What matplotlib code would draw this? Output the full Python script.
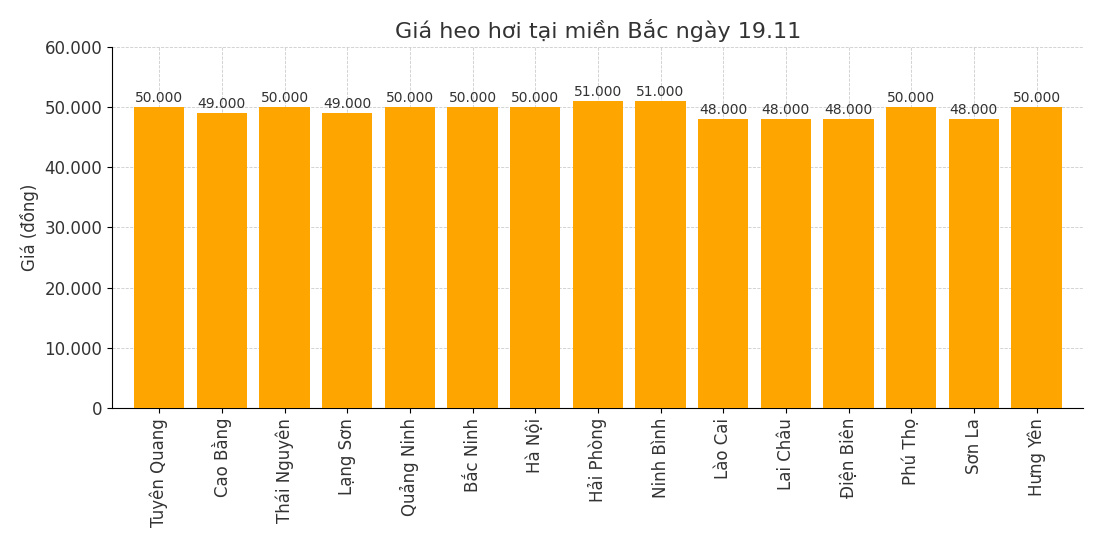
import matplotlib
matplotlib.use("Agg")
import matplotlib.pyplot as plt
from matplotlib.ticker import FuncFormatter

provinces = ["Tuyên Quang", "Cao Bằng", "Thái Nguyên", "Lạng Sơn", "Quảng Ninh", "Bắc Ninh",
             "Hà Nội", "Hải Phòng", "Ninh Bình", "Lào Cai", "Lai Châu", "Điện Biên",
             "Phú Thọ", "Sơn La", "Hưng Yên"]
prices = [50000, 49000, 50000, 49000, 50000, 50000, 50000, 51000, 51000, 48000, 48000, 48000,
          50000, 48000, 50000]

def fmt(v):
    return f"{int(v):,}".replace(",", ".")

plt.rcParams['font.family'] = ['DejaVu Sans']
fig = plt.figure(figsize=(11, 5.5), dpi=100)
ax = fig.add_axes([0.102, 0.258, 0.883, 0.657])
x = range(len(provinces))
ax.bar(x, prices, color="#FFA500", width=0.8, zorder=3)
for xi, v in zip(x, prices):
    ax.text(xi, v + 300, fmt(v), ha="center", va="bottom", fontsize=10, color="#333333", zorder=4)
ax.set_ylim(0, 60000)
ax.set_xlim(-0.75, len(provinces) - 0.25)
ax.yaxis.set_major_formatter(FuncFormatter(lambda v, p: fmt(v)))
ax.set_xticks(list(x))
ax.set_xticklabels(provinces, rotation=90, fontsize=12, color="#333333")
ax.tick_params(axis="y", labelsize=12, labelcolor="#333333")
ax.set_ylabel("Giá (đồng)", fontsize=12, color="#333333")
ax.set_title("Giá heo hơi tại miền Bắc ngày 19.11", fontsize=16, color="#333333")
ax.grid(True, linestyle="--", linewidth=0.6, color="#cccccc", zorder=0)
ax.spines["top"].set_visible(False)
ax.spines["right"].set_visible(False)
fig.savefig("out.png", dpi=100)
